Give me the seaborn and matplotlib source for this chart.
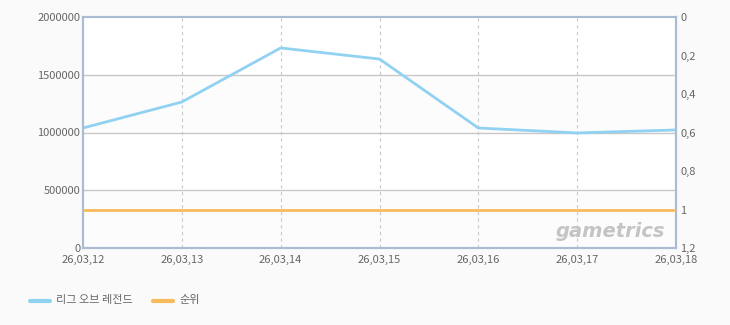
import matplotlib
matplotlib.use("Agg")
import matplotlib.pyplot as plt
import seaborn as sns
import pandas as pd
from matplotlib.lines import Line2D

dates = ["26,03,12", "26,03,13", "26,03,14", "26,03,15", "26,03,16", "26,03,17", "26,03,18"]
lol_values = [1039000, 1264000, 1732000, 1636000, 1039000, 996000, 1022000]
rank_values = [1, 1, 1, 1, 1, 1, 1]
left_ticks = [0, 500000, 1000000, 1500000, 2000000]
right_ticks = [0, 0.2, 0.4, 0.6, 0.8, 1, 1.2]
right_labels = ["0", "0,2", "0,4", "0,6", "0,8", "1", "1,2"]
series_names = ["리그 오브 레전드", "순위"]

sns.set_style("white")
plt.rcParams['font.family'] = ['Noto Sans CJK KR', 'DejaVu Sans']

BLUE = "#91D1F1"
ORANGE = "#F8BA5A"
SPINE = "#A9BCD2"
TXT = "#666666"

fig = plt.figure(figsize=(7.3, 3.25), dpi=100)
fig.patch.set_facecolor("#FAFAFA")
ax = fig.add_axes([83/730, 1-248/325, (676-83)/730, (248-17)/325])
ax.set_facecolor("white")

df = pd.DataFrame({"x": range(len(dates)), "v": lol_values, "r": rank_values})

# alternating bands
for i in range(len(left_ticks) - 1):
    if i % 2 == 0:
        ax.axhspan(left_ticks[i], left_ticks[i+1], color="#FCFCFC", zorder=0, lw=0)

sns.lineplot(data=df, x="x", y="v", ax=ax, color=BLUE, lw=2, zorder=3)
ax.set_xlim(0, len(dates) - 1)
ax.set_ylim(0, 2000000)
ax.set_yticks(left_ticks)
ax.set_yticklabels([str(t) for t in left_ticks])
ax.set_xticks(range(len(dates)))
ax.set_xticklabels(dates)
for t in left_ticks[1:-1]:
    ax.axhline(t, color="#C8C8C8", lw=1, zorder=1)
for i in range(1, len(dates) - 1):
    ax.axvline(i, color="#C8C8C8", lw=0.8, ls=(0, (3, 3)), zorder=1)
ax.set_xlabel("")
ax.set_ylabel("")
ax.tick_params(axis="y", colors=TXT, labelsize=8, length=0, pad=2)
ax.tick_params(axis="x", colors=TXT, labelsize=8, length=0, pad=5)

ax2 = ax.twinx()
sns.lineplot(data=df, x="x", y="r", ax=ax2, color=ORANGE, lw=2, zorder=3)
ax2.set_ylim(1.2, 0)
ax2.set_yticks(right_ticks)
ax2.set_yticklabels(right_labels)
ax2.set_ylabel("")
ax2.tick_params(axis="y", colors=TXT, labelsize=8, length=0, pad=3)

for a in (ax, ax2):
    for s in a.spines.values():
        s.set_color(SPINE)
        s.set_linewidth(1.5)

ax.text(0.982, 0.03, "gametrics", transform=ax.transAxes, ha="right", va="bottom",
        fontsize=14, fontweight="bold", style="italic", color="#C4C4C4",
        family=["DejaVu Sans"], zorder=5)

# legend at bottom
fig.add_artist(Line2D([30/730, 50/730], [1-301/325]*2, color=BLUE, lw=3))
fig.text(56/730, 1-300/325, series_names[0], fontsize=8, color=TXT, va="center")
fig.add_artist(Line2D([153/730, 173/730], [1-301/325]*2, color=ORANGE, lw=3))
fig.text(179/730, 1-300/325, series_names[1], fontsize=8, color=TXT, va="center")

fig.savefig("out.png", dpi=100, facecolor=fig.get_facecolor())
